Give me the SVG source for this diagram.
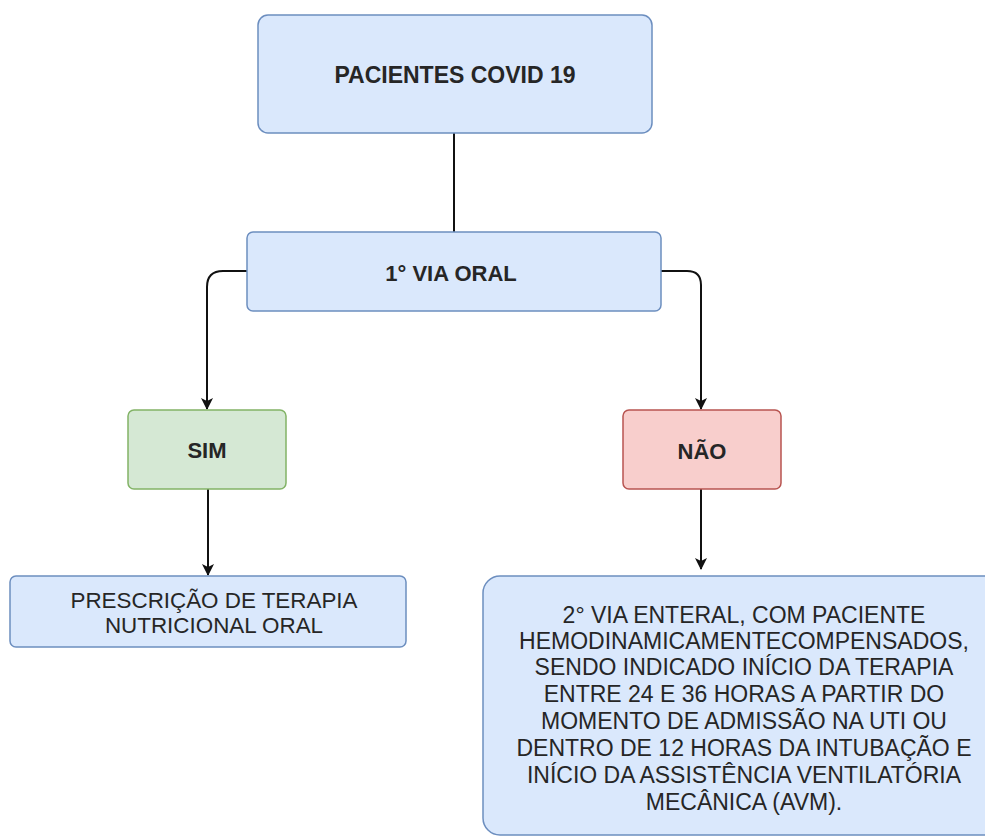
<svg xmlns="http://www.w3.org/2000/svg" width="985" height="837" viewBox="0 0 985 837">
<style>
.blue{fill:#dae8fc;stroke:#6c8ebf;stroke-width:1.5}
.green{fill:#d5e8d4;stroke:#82b366;stroke-width:1.5}
.red{fill:#f8cecc;stroke:#b85450;stroke-width:1.5}
.t{font-family:"Liberation Sans",Arial,sans-serif;fill:#262626;text-anchor:middle}
.b{font-weight:bold}
.edge{fill:none;stroke:#111;stroke-width:2}
</style>
<defs>
<marker id="arr" viewBox="0 0 12 12" refX="11" refY="6" markerWidth="12" markerHeight="12" markerUnits="userSpaceOnUse" orient="auto">
<path d="M0,0 L12,6 L0,12 L3,6 z" fill="#111"/>
</marker>
</defs>
<rect width="985" height="837" fill="#ffffff"/>
<g id="connectors">
<path class="edge" d="M454,133 L454,232"/>
<path class="edge" d="M247,271 L223,271 Q207,271 207,287 L207,409" marker-end="url(#arr)"/>
<path class="edge" d="M661,271 L687,271 Q701,271 701,285 L701,409" marker-end="url(#arr)"/>
<path class="edge" d="M208,489 L208,575" marker-end="url(#arr)"/>
<path class="edge" d="M701,489 L701,569" marker-end="url(#arr)"/>
</g>
<g id="pacientes">
<rect class="blue" x="258" y="15" width="394" height="118" rx="10"/>
<text class="t b" x="455" y="83" font-size="23">PACIENTES COVID 19</text>
</g>
<g id="via-oral">
<rect class="blue" x="247" y="232" width="414" height="79" rx="6"/>
<text class="t b" x="451" y="281" font-size="22">1° VIA ORAL</text>
</g>
<g id="sim">
<rect class="green" x="128" y="410" width="158" height="79" rx="6"/>
<text class="t b" x="207" y="458" font-size="22">SIM</text>
</g>
<g id="nao">
<rect class="red" x="623" y="410" width="158" height="79" rx="6"/>
<text class="t b" x="702" y="459" font-size="22">NÃO</text>
</g>
<g id="prescricao">
<rect class="blue" x="10" y="576" width="396" height="71" rx="6"/>
<text class="t" x="214" y="608" font-size="22.4">PRESCRIÇÃO DE TERAPIA</text>
<text class="t" x="214" y="633" font-size="22.4">NUTRICIONAL ORAL</text>
</g>
<g id="via-enteral">
<rect class="blue" x="483" y="576" width="525" height="259" rx="17"/>
<text class="t" x="744" font-size="23" y="623">2° VIA ENTERAL, COM PACIENTE</text>
<text class="t" x="744" font-size="23" y="649">HEMODINAMICAMENTECOMPENSADOS,</text>
<text class="t" x="744" font-size="23" y="675">SENDO INDICADO INÍCIO DA TERAPIA</text>
<text class="t" x="744" font-size="23" y="702">ENTRE 24 E 36 HORAS A PARTIR DO</text>
<text class="t" x="744" font-size="23" y="729">MOMENTO DE ADMISSÃO NA UTI OU</text>
<text class="t" x="744" font-size="23" y="756">DENTRO DE 12 HORAS DA INTUBAÇÃO E</text>
<text class="t" x="744" font-size="23" y="783">INÍCIO DA ASSISTÊNCIA VENTILATÓRIA</text>
<text class="t" x="744" font-size="23" y="810">MECÂNICA (AVM).</text>
</g>
</svg>
